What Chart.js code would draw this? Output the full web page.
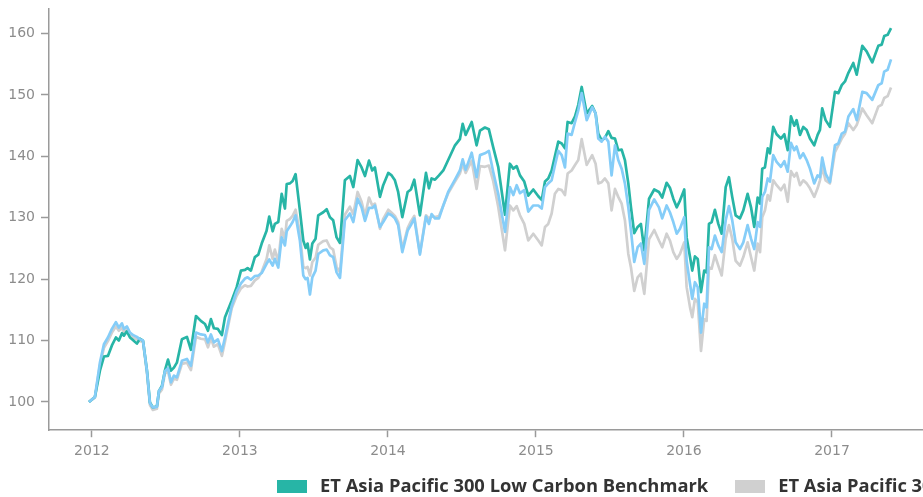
<!DOCTYPE html>
<html>
<head>
<meta charset="utf-8">
<script src="https://cdn.jsdelivr.net/npm/chart.js@4"></script>
<style>
  html, body { margin: 0; padding: 0; background: #fff; overflow: hidden; }
  #wrap { position: relative; width: 923px; height: 497px; overflow: hidden; }
  #legend {
    position: absolute; left: 277px; top: 472px;
    white-space: nowrap; font-family: "Open Sans", Lato, sans-serif;
    font-weight: 700; font-size: 18.35px; color: #333;
  }
  #legend span.item { display: inline-block; margin-right: 27px; }
  #legend i { display: inline-block; width: 30px; height: 13px; margin-right: 13px; vertical-align: -1px; }
</style>
</head>
<body>
<div id="wrap">
  <canvas id="indexChart" width="923" height="497"></canvas>
  <div id="legend"></div>
</div>
<script>
// dates as decimal years
const dates = [
  2011.980, 2012.020, 2012.054, 2012.081, 2012.108, 2012.135, 2012.162, 2012.182, 2012.203, 2012.216,
  2012.236, 2012.257, 2012.277, 2012.304, 2012.324, 2012.345, 2012.372, 2012.392, 2012.412, 2012.439,
  2012.453, 2012.473, 2012.493, 2012.514, 2012.534, 2012.554, 2012.574, 2012.608, 2012.642, 2012.669,
  2012.703, 2012.736, 2012.764, 2012.784, 2012.804, 2012.824, 2012.851, 2012.878, 2012.899,
  2012.944, 2012.978, 2013.007, 2013.034, 2013.052, 2013.074, 2013.101, 2013.124, 2013.147, 2013.180,
  2013.198, 2013.221, 2013.236, 2013.259, 2013.282, 2013.304, 2013.316, 2013.338, 2013.356, 2013.376,
  2013.405, 2013.428, 2013.444, 2013.457, 2013.473, 2013.489, 2013.511, 2013.529, 2013.563, 2013.586,
  2013.608, 2013.630, 2013.653, 2013.676, 2013.709, 2013.743, 2013.766, 2013.795, 2013.822,
  2013.845, 2013.872, 2013.894, 2013.912, 2013.946, 2013.968, 2014.002, 2014.025, 2014.047, 2014.069,
  2014.097, 2014.133, 2014.155, 2014.178, 2014.216, 2014.257, 2014.277, 2014.295, 2014.318, 2014.345,
  2014.374, 2014.407, 2014.453, 2014.486, 2014.505, 2014.525, 2014.566, 2014.599, 2014.622, 2014.655,
  2014.682, 2014.711, 2014.745,
  2014.791, 2014.824, 2014.847, 2014.870, 2014.892, 2014.921, 2014.948, 2014.982, 2015.016, 2015.039,
  2015.061, 2015.083, 2015.106, 2015.128, 2015.151, 2015.174, 2015.196, 2015.214, 2015.241, 2015.264,
  2015.286, 2015.309, 2015.343, 2015.380, 2015.403, 2015.421, 2015.444, 2015.466, 2015.489, 2015.511,
  2015.534, 2015.556, 2015.579, 2015.601, 2015.624, 2015.642, 2015.664, 2015.687, 2015.709, 2015.732,
  2015.764, 2015.799,
  2015.831, 2015.853, 2015.883, 2015.905, 2015.928, 2015.951, 2015.973, 2016.002, 2016.018, 2016.041,
  2016.056, 2016.074, 2016.093, 2016.115, 2016.137, 2016.153, 2016.169, 2016.187, 2016.209, 2016.232,
  2016.255, 2016.282, 2016.304, 2016.326, 2016.349, 2016.378, 2016.401, 2016.430, 2016.453, 2016.475,
  2016.498, 2016.514, 2016.529, 2016.547, 2016.566, 2016.581, 2016.603, 2016.626, 2016.655, 2016.678,
  2016.701, 2016.723, 2016.745,
  2016.761, 2016.784, 2016.806, 2016.829, 2016.851, 2016.880, 2016.903, 2016.919, 2016.934, 2016.957,
  2016.986, 2017.020, 2017.043, 2017.066, 2017.088, 2017.111, 2017.144, 2017.167, 2017.205, 2017.234,
  2017.272, 2017.313, 2017.336, 2017.353, 2017.376, 2017.399
];

const lowCarbon = [
  100.0, 100.8, 105.1, 107.4, 107.5, 109.2, 110.5, 110.0, 111.2, 110.8,
  111.5, 110.5, 110.1, 109.5, 110.3, 110.0, 105.1, 99.9, 99.1, 99.3,
  101.8, 102.6, 105.1, 106.9, 105.1, 105.6, 106.4, 110.2, 110.6, 108.5,
  114.0, 113.2, 112.7, 111.6, 113.5, 112.0, 111.9, 110.9, 113.8,
  116.5, 118.7, 121.4, 121.5, 121.8, 121.4, 123.6, 124.0, 125.8, 127.9,
  130.2, 127.8, 129.0, 129.3, 133.9, 131.5, 135.5, 135.6, 136.0, 137.1,
  131.2, 126.3, 125.1, 125.8, 123.2, 125.8, 126.6, 130.4, 130.9, 131.4,
  130.1, 129.6, 126.8, 125.9, 136.1, 136.8, 135.0, 139.4, 138.2,
  136.8, 139.3, 137.7, 138.2, 133.4, 135.3, 137.3, 136.9, 136.1, 134.2,
  130.1, 134.2, 134.6, 136.2, 130.4, 137.3, 134.8, 136.4, 136.2, 136.9,
  137.7, 139.4, 141.8, 142.8, 145.3, 143.5, 145.6, 141.8, 144.2, 144.7,
  144.4, 141.5, 138.3,
  130.5, 138.8, 138.0, 138.4, 136.9, 135.9, 133.6, 134.6, 133.5, 132.9,
  135.9, 136.4, 137.7, 140.0, 142.4, 142.1, 141.3, 145.6, 145.4, 146.5,
  148.4, 151.3, 147.0, 148.2, 147.0, 143.7, 142.6, 143.0, 144.1, 143.0,
  142.9, 141.0, 141.1, 139.4, 135.6, 131.7, 127.5, 128.5, 129.0, 124.7,
  133.1, 134.6,
  134.2, 133.3, 135.7, 134.9, 133.1, 131.7, 132.8, 134.6, 126.8, 123.6,
  121.4, 123.7, 123.3, 117.9, 121.4, 121.1, 129.0, 129.3, 131.3, 129.0,
  127.4, 135.0, 136.6, 133.4, 130.4, 129.9, 131.2, 133.9, 131.7, 128.5,
  133.3, 132.3, 138.0, 138.2, 141.3, 140.5, 144.8, 143.6, 142.9, 143.6,
  141.0, 146.5, 145.0,
  145.9, 143.5, 144.8, 144.3, 142.9, 141.8, 143.5, 144.3, 147.8, 145.9,
  144.8, 150.5, 150.3, 151.6, 152.2, 153.6, 155.2, 153.3, 158.0, 157.1,
  155.3, 158.0, 158.2, 159.6, 159.8, 160.9
];

const parentIndex = [
  100.0, 100.7, 106.0, 108.8, 109.9, 111.3, 112.3, 111.6, 112.1, 111.3,
  111.8, 110.8, 110.5, 110.2, 109.9, 109.8, 104.7, 99.5, 98.7, 98.9,
  101.4, 102.0, 104.6, 105.0, 102.8, 103.8, 103.6, 106.2, 106.4, 105.2,
  110.6, 110.3, 110.2, 108.9, 110.4, 109.0, 109.4, 107.5, 109.8,
  115.2, 117.3, 118.5, 119.0, 118.8, 118.9, 119.8, 120.2, 121.2, 123.3,
  125.5, 123.3, 124.8, 122.8, 128.2, 126.5, 129.5, 129.8, 130.3, 131.3,
  127.5, 122.0, 121.8, 122.0, 120.6, 122.8, 123.5, 125.6, 126.2, 126.3,
  125.2, 124.8, 122.0, 121.1, 130.5, 131.8, 130.6, 134.2, 132.6,
  130.3, 133.3, 132.0, 132.3, 128.2, 129.8, 131.3, 130.8, 130.3, 129.3,
  124.9, 128.3, 129.4, 130.3, 124.2, 130.4, 129.9, 130.2, 130.1, 130.3,
  132.0, 134.0, 135.9, 137.2, 138.8, 137.3, 139.3, 134.7, 138.4, 138.3,
  138.5, 136.0, 131.8,
  124.7, 132.0, 131.2, 131.9, 130.4, 129.0, 126.3, 127.4, 126.3, 125.5,
  128.5, 129.0, 130.7, 133.9, 134.7, 134.5, 133.7, 137.2, 137.7, 138.6,
  139.4, 142.8, 138.6, 140.2, 138.8, 135.6, 135.8, 136.4, 135.6, 131.2,
  134.7, 133.4, 132.3, 129.6, 124.1, 121.9, 118.1, 120.3, 120.9, 117.6,
  126.5, 128.0,
  126.3, 125.2, 127.4, 126.3, 124.4, 123.3, 124.1, 126.0, 118.7, 115.4,
  113.8, 116.8, 116.2, 108.3, 113.5, 113.2, 121.9, 121.7, 123.9, 122.2,
  120.6, 126.6, 128.8, 126.6, 123.0, 122.2, 123.6, 126.0, 123.6, 121.4,
  125.8, 124.4, 130.1, 131.2, 133.7, 132.8, 136.1, 135.3, 134.5, 135.4,
  132.6, 137.6, 136.7,
  137.3, 135.3, 136.1, 135.6, 134.8, 133.4, 134.8, 136.1, 138.3, 136.1,
  135.6, 140.7, 141.8, 142.9, 143.7, 145.4, 144.3, 145.1, 147.8, 146.7,
  145.4, 148.1, 148.4, 149.5, 149.8, 151.2
];

const thirdIndex = [
  100.0, 100.8, 106.4, 109.4, 110.5, 111.9, 113.0, 112.1, 112.8, 111.9,
  112.3, 111.3, 110.9, 110.6, 110.2, 110.0, 105.0, 99.8, 99.1, 99.2,
  101.8, 102.4, 105.0, 105.5, 103.2, 104.3, 104.0, 106.7, 107.0, 105.9,
  111.3, 111.0, 110.9, 109.7, 111.0, 109.7, 110.2, 108.3, 110.5,
  115.6, 118.0, 119.3, 120.1, 120.3, 119.9, 120.5, 120.6, 121.0, 122.5,
  123.2, 122.2, 123.3, 121.9, 126.8, 125.5, 127.8, 128.6, 129.3, 130.4,
  126.3, 120.6, 120.0, 120.2, 117.5, 120.3, 121.4, 124.1, 124.7, 124.8,
  123.9, 123.6, 121.1, 120.2, 129.6, 130.7, 129.3, 133.1, 131.7,
  129.5, 131.6, 131.6, 132.0, 128.5, 129.3, 130.7, 130.4, 129.9, 128.8,
  124.4, 127.9, 128.8, 129.9, 124.0, 130.2, 129.0, 130.6, 129.9, 129.9,
  132.0, 134.2, 136.2, 137.7, 139.5, 137.8, 140.6, 136.6, 140.2, 140.5,
  140.9, 137.5, 133.9,
  127.7, 135.0, 133.7, 135.3, 134.0, 134.5, 131.0, 132.0, 132.0, 131.5,
  135.0, 135.6, 136.1, 138.5, 140.9, 140.2, 138.2, 143.7, 143.5, 145.6,
  147.5, 150.3, 145.9, 148.0, 147.0, 142.9, 142.4, 143.2, 142.4, 136.9,
  141.8, 139.4, 138.0, 135.6, 131.7, 127.9, 122.8, 125.2, 125.8, 122.5,
  131.3, 133.0,
  131.7, 129.9, 132.0, 130.9, 129.3, 127.4, 128.2, 130.1, 123.0, 119.2,
  116.8, 119.5, 118.7, 111.3, 116.0, 115.4, 125.2, 124.9, 127.1, 125.5,
  124.4, 129.6, 131.9, 129.6, 126.0, 124.9, 126.0, 128.8, 126.6, 124.9,
  129.3, 128.5, 133.4, 134.2, 136.4, 135.9, 140.2, 139.1, 138.3, 139.2,
  137.5, 142.2, 141.0,
  141.6, 139.7, 140.5, 139.4, 138.0, 135.6, 136.9, 136.6, 139.8, 137.2,
  135.8, 141.8, 142.1, 143.7, 144.0, 146.5, 147.7, 145.9, 150.5, 150.3,
  149.2, 151.6, 151.9, 153.8, 154.1, 155.8
];

const seriesNames = ["ET Asia Pacific 300 Low Carbon Benchmark", "ET Asia Pacific 300", "Third index"];
const seriesColors = ["#27b5a6", "#d0d0d0", "#85cdf8"];
const yearTicks = [2012, 2013, 2014, 2015, 2016, 2017];

function pts(values) {
  return values.map((v, i) => ({ x: dates[i], y: v }));
}

const datasets = [lowCarbon, parentIndex, thirdIndex].map((vals, i) => ({
  label: seriesNames[i],
  data: pts(vals),
  borderColor: seriesColors[i],
  backgroundColor: seriesColors[i],
  borderWidth: 2.7,
  pointRadius: 0,
  tension: 0,
  borderJoinStyle: "round",
  order: [1, 2, 0][i],
}));

const axisColor = "#9a9a9a";
const tickFont = { family: "'DejaVu Sans', sans-serif", size: 14 };

const ctx = document.getElementById("indexChart");
const chart = new Chart(ctx, {
  type: "line",
  data: { datasets: datasets },
  options: {
    responsive: false,
    animation: false,
    layout: { padding: { left: 0, top: 9, right: 0, bottom: 31 } },
    plugins: { legend: { display: false }, tooltip: { enabled: false } },
    scales: {
      x: {
        type: "linear",
        min: 2011.71,
        max: 2017.615,
        afterBuildTicks: (axis) => { axis.ticks = yearTicks.map((v) => ({ value: v })); },
        afterFit: (axis) => { axis.paddingLeft = 0; axis.paddingRight = 0; },
        ticks: { color: "#8c8c8c", font: tickFont, padding: 6, maxRotation: 0, callback: (v) => String(v) },
        grid: { drawOnChartArea: false, drawTicks: true, tickLength: 7, tickColor: axisColor, tickWidth: 1.5 },
        border: { display: true, color: axisColor, width: 1.5 },
      },
      y: {
        min: 95.4,
        max: 164,
        afterFit: (axis) => { axis.width = 49; axis.paddingTop = 0; axis.paddingBottom = 0; },
        ticks: { stepSize: 10, includeBounds: false, color: "#8c8c8c", font: tickFont, padding: 6 },
        grid: { drawOnChartArea: false, drawTicks: true, tickLength: 8, tickColor: axisColor, tickWidth: 1.5 },
        border: { display: true, color: axisColor, width: 1.5 },
      },
    },
  },
});

// legend in dataset order; it runs past the right edge like the original
const legendEl = document.getElementById("legend");
chart.data.datasets.forEach((ds) => {
  const item = document.createElement("span");
  item.className = "item";
  item.innerHTML = '<i style="background:' + ds.borderColor + '"></i>' + ds.label;
  legendEl.appendChild(item);
});
</script>
</body>
</html>
